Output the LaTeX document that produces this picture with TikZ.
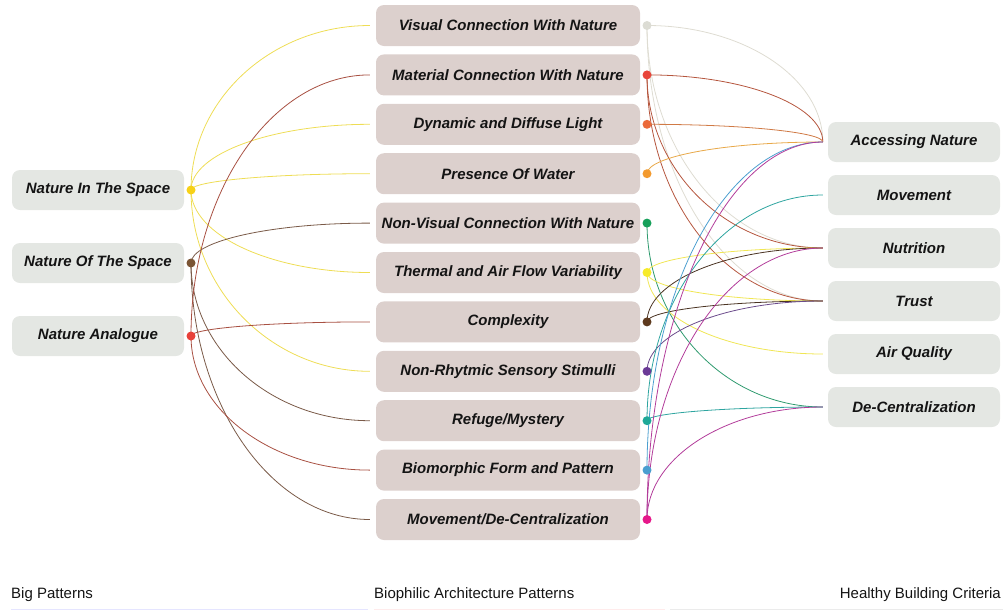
\documentclass[tikz,border=0pt]{standalone}
\usepackage{fontspec}
\setmainfont{Liberation Sans}
\usetikzlibrary{calc,backgrounds}

\definecolor{bpside}{HTML}{E4E7E3}
\definecolor{bpmid}{HTML}{DCD0CD}
\definecolor{bptext}{HTML}{141414}
% hub colours
\definecolor{bpnits}{HTML}{F7D117}
\definecolor{bpnots}{HTML}{7B5535}
\definecolor{bpna}{HTML}{E8413A}
\definecolor{bpvis}{HTML}{DCDCD4}
\definecolor{bpmat}{HTML}{E8453A}
\definecolor{bpdyn}{HTML}{EB6A3A}
\definecolor{bpwater}{HTML}{F39A2E}
\definecolor{bpnonvis}{HTML}{16A05A}
\definecolor{bptherm}{HTML}{F7EB2A}
\definecolor{bpcomplex}{HTML}{5E3A1E}
\definecolor{bpstim}{HTML}{6A3A96}
\definecolor{bprefuge}{HTML}{1EA898}
\definecolor{bpbio}{HTML}{4A9ED0}
\definecolor{bpmove}{HTML}{E6188A}
% link colours
\definecolor{nitsline}{HTML}{EEDD55}
\definecolor{notsline}{HTML}{7A5A48}
\definecolor{naline}{HTML}{A85042}
\definecolor{visline}{HTML}{DEDCD2}
\definecolor{matline}{HTML}{B5563E}
\definecolor{dynline}{HTML}{D07A45}
\definecolor{waterline}{HTML}{E8A848}
\definecolor{nonvisline}{HTML}{2E9A6E}
\definecolor{thermline}{HTML}{F0E655}
\definecolor{complexline}{HTML}{4A3322}
\definecolor{stimline}{HTML}{6C4C8C}
\definecolor{refugeline}{HTML}{2EA5A0}
\definecolor{bioline}{HTML}{4C9FD0}
\definecolor{moveline}{HTML}{B23C9A}

% quarter ellipse: leaves the hub upright, comes in level at the box
\newcommand{\leftlink}[3]{%
  \draw[link, #1] let \p1=(#2), \p2=([xshift=-6pt]#3.west) in
    (\p1) .. controls ($(\p1)!0.55!(\x1,\y2)$) and ($(\p2)!0.55!(\x1,\y2)$) .. (\p2);}
\newcommand{\rightlink}[3]{%
  \draw[link, #1] let \p1=(#2), \p2=([xshift=-5pt]#3.west) in
    (\p1) .. controls ($(\p1)!0.55!(\x1,\y2)$) and ($(\p2)!0.55!(\x1,\y2)$) .. (\p2);}
% quarter ellipse: leaves the hub level, comes in upright at the box
\newcommand{\rightflat}[3]{%
  \draw[link, #1] let \p1=(#2), \p2=([xshift=-5pt]#3.west) in
    (\p1) .. controls ($(\p1)!0.55!(\x2,\y1)$) and ($(\p2)!0.55!(\x2,\y1)$) .. (\p2);}

\begin{document}
\begin{tikzpicture}[x=1pt, y=-1pt,
    every node/.style={font=\fontsize{15}{18}\selectfont, text=bptext},
    sidebox/.style={rectangle, fill=bpside, rounded corners=8pt, minimum width=172pt, minimum height=40pt, inner sep=0pt, font=\fontsize{15}{18}\selectfont\bfseries\itshape},
    midbox/.style={sidebox, fill=bpmid, minimum width=264pt, minimum height=41pt},
    hub/.style={circle, inner sep=0pt, minimum size=9pt},
    link/.style={line width=0.8pt}]
            \useasboundingbox (0,0) rectangle (1003,611);

            % Big patterns
            \node[sidebox] (nits) at (98,190) {Nature In The Space};
            \node[sidebox] (nots) at (98,263) {Nature Of The Space};
            \node[sidebox] (na) at (98,336) {Nature Analogue};
            \node[hub, fill=bpnits] (nitsd) at (191,190) {};
            \node[hub, fill=bpnots] (notsd) at (191,263) {};
            \node[hub, fill=bpna] (nad) at (191,336) {};

            % Biophilic architecture patterns
            \node[midbox] (vis) at (508,25.5) {Visual Connection With Nature};
            \node[midbox] (material) at (508,74.9) {Material Connection With Nature};
            \node[midbox] (light) at (508,124.3) {Dynamic and Diffuse Light};
            \node[midbox] (water) at (508,173.7) {Presence Of Water};
            \node[midbox] (nonvis) at (508,223.1) {Non-Visual Connection With Nature};
            \node[midbox] (thermal) at (508,272.5) {Thermal and Air Flow Variability};
            \node[midbox] (complex) at (508,321.9) {Complexity};
            \node[midbox] (stimuli) at (508,371.3) {Non-Rhytmic Sensory Stimulli};
            \node[midbox] (refuge) at (508,420.7) {Refuge/Mystery};
            \node[midbox] (biomorph) at (508,470.1) {Biomorphic Form and Pattern};
            \node[midbox] (move) at (508,519.5) {Movement/De-Centralization};

            \node[hub, fill=bpvis] (visd) at (647,25.5) {};
            \node[hub, fill=bpmat] (materiald) at (647,74.9) {};
            \node[hub, fill=bpdyn] (lightd) at (647,124.3) {};
            \node[hub, fill=bpwater] (waterd) at (647,173.7) {};
            \node[hub, fill=bpnonvis] (nonvisd) at (647,223.1) {};
            \node[hub, fill=bptherm] (thermald) at (647,272.5) {};
            \node[hub, fill=bpcomplex] (complexd) at (647,321.9) {};
            \node[hub, fill=bpstim] (stimulid) at (647,371.3) {};
            \node[hub, fill=bprefuge] (refuged) at (647,420.7) {};
            \node[hub, fill=bpbio] (biomorphd) at (647,470.1) {};
            \node[hub, fill=bpmove] (moved) at (647,519.5) {};

            % Healthy building criteria
            \node[sidebox] (access) at (914,142) {Accessing Nature};
            \node[sidebox] (movement) at (914,195) {Movement};
            \node[sidebox] (nutrition) at (914,248) {Nutrition};
            \node[sidebox] (trust) at (914,301) {Trust};
            \node[sidebox] (air) at (914,354) {Air Quality};
            \node[sidebox] (decentral) at (914,407) {De-Centralization};

            % Links behind everything
            \begin{scope}[on background layer]
            \leftlink{nitsline}{nitsd}{vis}
            \leftlink{nitsline}{nitsd}{light}
            \leftlink{nitsline}{nitsd}{water}
            \leftlink{nitsline}{nitsd}{thermal}
            \leftlink{nitsline}{nitsd}{stimuli}
            \leftlink{notsline}{notsd}{nonvis}
            \leftlink{notsline}{notsd}{refuge}
            \leftlink{notsline}{notsd}{move}
            \leftlink{naline}{nad}{material}
            \leftlink{naline}{nad}{complex}
            \leftlink{naline}{nad}{biomorph}

            \rightflat{visline}{visd}{access}
            \rightlink{visline}{visd}{nutrition}
            \rightlink{visline}{visd}{trust}
            \rightflat{matline}{materiald}{access}
            \rightlink{matline}{materiald}{nutrition}
            \rightlink{matline}{materiald}{trust}
            \rightflat{dynline}{lightd}{access}
            \rightlink{waterline}{waterd}{access}
            \rightlink{nonvisline}{nonvisd}{decentral}
            \rightlink{thermline}{thermald}{nutrition}
            \rightlink{thermline}{thermald}{trust}
            \rightlink{thermline}{thermald}{air}
            \rightlink{complexline}{complexd}{nutrition}
            \rightlink{complexline}{complexd}{trust}
            \rightlink{stimline}{stimulid}{trust}
            \rightlink{refugeline}{refuged}{movement}
            \rightlink{refugeline}{refuged}{decentral}
            \rightlink{bioline}{biomorphd}{access}
            \rightlink{moveline}{moved}{access}
            \rightlink{moveline}{moved}{nutrition}
            \rightlink{moveline}{moved}{decentral}
            \end{scope}

            % Column titles
            \node[anchor=west, inner sep=0pt] (bigpat) at (11,595) {Big Patterns};
            \node[anchor=west, inner sep=0pt] (biopat) at (374,595) {Biophilic Architecture Patterns};
            \node[anchor=east, inner sep=0pt] (hbcrit) at (1001,595) {Healthy Building Criteria};
            \draw[blue!10, line width=1.5pt] (11,609.5) -- (368,609.5);
            \draw[red!8, line width=1.5pt] (374,609.5) -- (665,609.5);
            \draw[black!8, line width=1.5pt] (670,609.5) -- (1003,609.5);
        \end{tikzpicture}
\end{document}
